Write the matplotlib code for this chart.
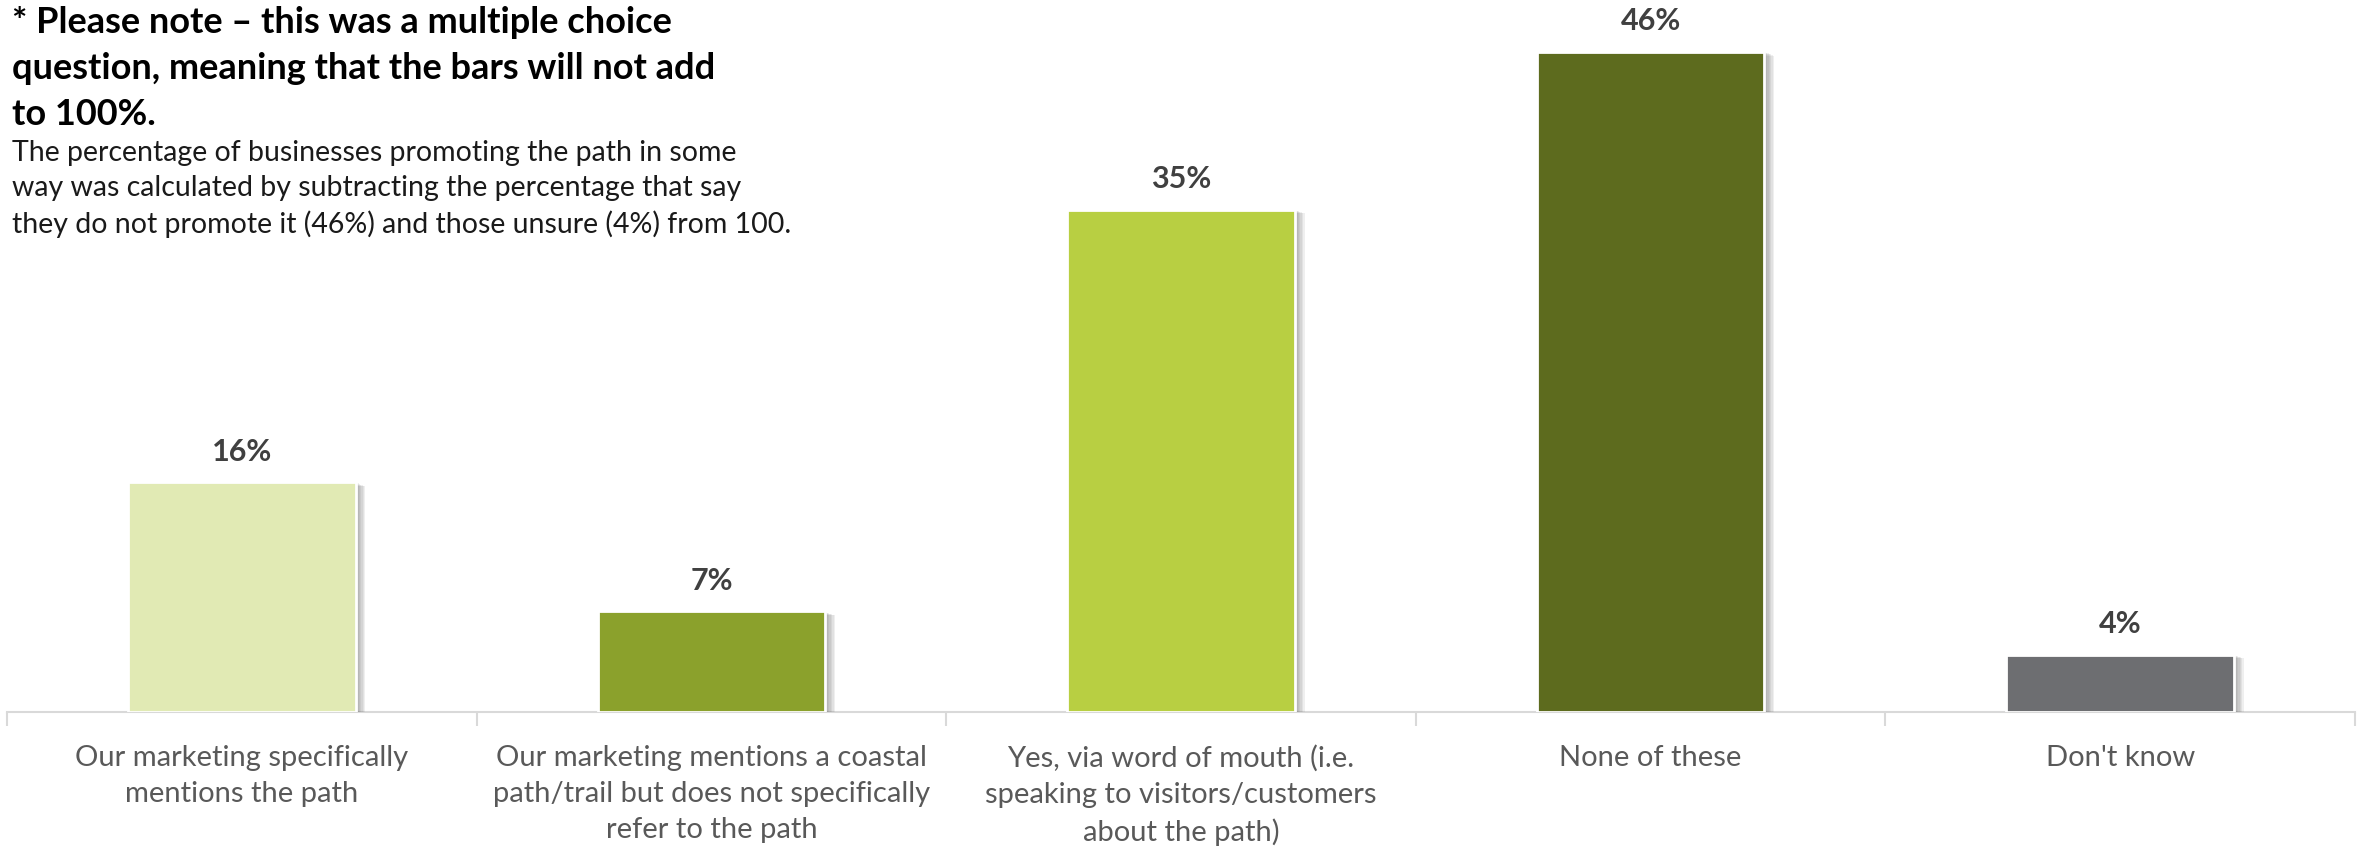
import matplotlib
matplotlib.use("Agg")
import matplotlib.pyplot as plt
import matplotlib.patheffects as pe
import numpy as np

categories = [
    "Our marketing specifically\nmentions the path",
    "Our marketing mentions a coastal\npath/trail but does not specifically\nrefer to the path",
    "Yes, via word of mouth (i.e.\nspeaking to visitors/customers\nabout the path)",
    "None of these",
    "Don't know",
]
values = [16, 7, 35, 46, 4]
bar_colors = ["#E1EAB4", "#8BA12C", "#B8CF42", "#5D6B1E", "#6D6E71"]

title = ("* Please note \u2013 this was a multiple choice\n"
         "question, meaning that the bars will not add\n"
         "to 100%.")
note = ("The percentage of businesses promoting the path in some\n"
        "way was calculated by subtracting the percentage that say\n"
        "they do not promote it (46%) and those unsure (4%) from 100.")

plt.rcParams['font.family'] = ['Lato', 'DejaVu Sans']

fig = plt.figure(figsize=(23.62, 8.49), dpi=100)
ax = fig.add_axes([0.003, 0.1614, 0.994, 0.8386])

x = np.arange(len(values))

# soft drop shadow built from several offset copies
shadow = [pe.SimplePatchShadow(offset=(k, -k * 0.4), shadow_rgbFace="#707070", alpha=0.11)
          for k in range(1, 8)]
bars = ax.bar(x, values, width=0.485, color=bar_colors, edgecolor="white", linewidth=2,
              zorder=3)
for b in bars:
    b.set_path_effects(shadow + [pe.Normal()])

for xi, v in zip(x, values):
    ax.annotate(f"{v}%", (xi, v), xytext=(0, 12), textcoords="offset points",
                ha="center", va="bottom", fontsize=22, fontweight="bold", color="#404040")

ax.set_xlim(-0.5, len(values) - 0.5)
ax.set_ylim(0, 49.6)

for s in ["top", "right", "left"]:
    ax.spines[s].set_visible(False)
ax.spines["bottom"].set_color("#D9D9D9")
ax.spines["bottom"].set_linewidth(1.5)
ax.set_yticks([])

ax.set_xticks(x)
ax.set_xticklabels(categories, fontsize=21, color="#595959", linespacing=1.47)
ax.tick_params(axis="x", which="major", length=0, pad=24)
ax.set_xticks(np.arange(-0.5, len(values)), minor=True)
ax.tick_params(axis="x", which="minor", length=10, width=1.5, color="#D9D9D9")

fig.text(0.005, 0.993, title, ha="left", va="top", fontsize=26, fontweight="bold",
         color="black", linespacing=1.48)
fig.text(0.005, 0.835, note, ha="left", va="top", fontsize=20.5, color="#1A1A1A",
         linespacing=1.43)

fig.savefig("out.png", dpi=100)
